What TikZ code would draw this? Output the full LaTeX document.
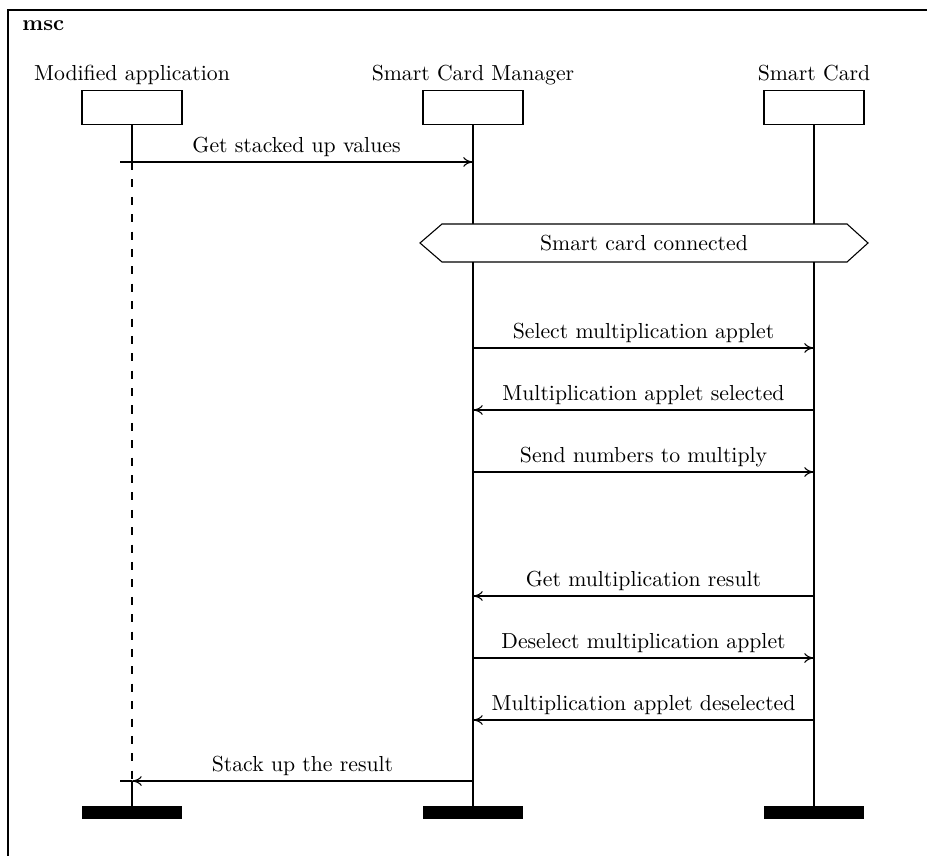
\documentclass[tikz,border=0pt]{standalone}
\usepackage{tikz}
\usetikzlibrary{arrows.meta,calc}

\begin{document}
\begin{tikzpicture}[x=0.46pt, y=-0.46pt, every node/.style={font=\normalsize},
    head/.style={draw, line width=0.5pt, minimum width=46pt, minimum height=16pt, inner sep=0pt},
    foot/.style={fill, minimum width=46pt, minimum height=6pt, inner sep=0pt},
    iname/.style={above, inner sep=1.8pt, text depth=1.94pt},
    msg/.style={line width=0.5pt, -{To[length=4.5pt,width=4.5pt]}},
    lbl/.style={above, inner sep=2pt, text depth=1.94pt}]
  \useasboundingbox (0,0) rectangle (927,856);
  % frame
  \draw[line width=0.7pt] (8,10) rectangle (945,875);
  \node[anchor=base west, font=\bfseries, inner sep=0pt] (title) at (22,31) {msc};

  % instances
  \node[head] (hApp) at (132,107.5) {};
  \node[head] (hSCM) at (473,107.5) {};
  \node[head] (hSC)  at (814,107.5) {};
  \node[iname] (nApp) at (hApp.north) {Modified application};
  \node[iname] (nSCM) at (hSCM.north) {Smart Card Manager};
  \node[iname] (nSC)  at (hSC.north)  {Smart Card};
  \node[foot] (fApp) at (132,812.5) {};
  \node[foot] (fSCM) at (473,812.5) {};
  \node[foot] (fSC)  at (814,812.5) {};

  % lifelines
  \coordinate (aTop) at (132,162);
  \coordinate (aBot) at (132,781);
  \draw[line width=0.5pt] (hApp.south) -- (aTop);
  \draw[line width=0.5pt, dash pattern=on 3.7pt off 4.3pt] (aTop) -- (aBot);
  \draw[line width=0.5pt] (aBot) -- (fApp.north);
  \draw[line width=0.5pt] (hSCM.south) -- (fSCM.north);
  \draw[line width=0.5pt] (hSC.south) -- (fSC.north);

  % condition
  \draw[line width=0.5pt, fill=white] (420,243) -- (442,224) -- (847,224)
    -- (868,243) -- (847,262) -- (442,262) -- cycle;
  \node (cond) at (644,243) {Smart card connected};

  % messages
  \coordinate (m1) at (120,162);
  \draw[msg] (m1) -- node[lbl] {Get stacked up values} (hSCM |- m1);
  \draw[msg] (hSCM |- 0,348) -- node[lbl] {Select multiplication applet} (hSC |- 0,348);
  \draw[msg] (hSC |- 0,410) -- node[lbl] {Multiplication applet selected} (hSCM |- 0,410);
  \draw[msg] (hSCM |- 0,472) -- node[lbl] {Send numbers to multiply} (hSC |- 0,472);
  \draw[msg] (hSC |- 0,596) -- node[lbl] {Get multiplication result} (hSCM |- 0,596);
  \draw[msg] (hSCM |- 0,658) -- node[lbl] {Deselect multiplication applet} (hSC |- 0,658);
  \draw[msg] (hSC |- 0,720) -- node[lbl] {Multiplication applet deselected} (hSCM |- 0,720);
  \coordinate (m9) at (120,781);
  \draw[line width=0.5pt] (hApp |- m9) -- (m9);
  \draw[msg] (hSCM |- m9) -- node[lbl] {Stack up the result} (hApp |- m9);
\end{tikzpicture}
\end{document}
